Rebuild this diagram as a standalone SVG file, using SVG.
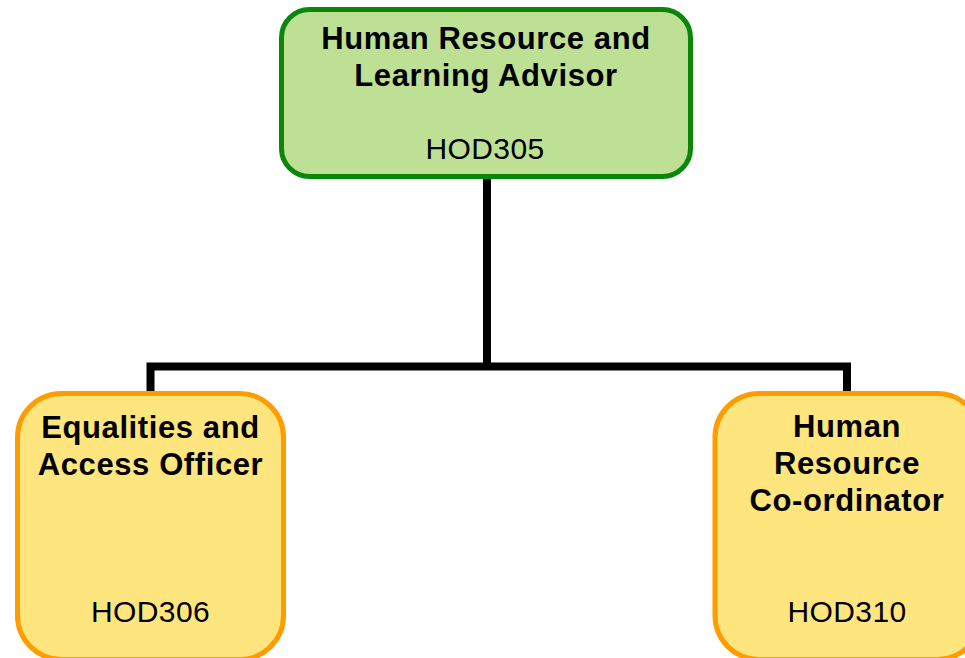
<svg xmlns="http://www.w3.org/2000/svg" width="965" height="658" viewBox="0 0 965 658">
<style>
.t{font-family:"Liberation Sans",Arial,sans-serif;font-size:30px;fill:#000;text-anchor:middle;letter-spacing:0.4px}
.b{font-weight:bold;font-size:31px;letter-spacing:0.6px}
.green{fill:#bde094;stroke:#0a870a;stroke-width:5}
.orange{fill:#ffe57d;stroke:#ff9c00;stroke-width:5}
.conn{fill:none;stroke:#000;stroke-width:8;stroke-linejoin:miter}
</style>
<rect width="965" height="658" fill="#fff"/>
<g id="connectors">
<path class="conn" d="M487,179 V366.5"/>
<path class="conn" d="M150.5,392 V366.5 H847 V392"/>
</g>
<g id="node-hod305">
<rect class="green" x="281.5" y="9.5" width="409" height="167" rx="28" ry="28"/>
<text class="t b" x="486" y="49">Human Resource and</text>
<text class="t b" x="486" y="86">Learning Advisor</text>
<text class="t" x="485" y="159">HOD305</text>
</g>
<g id="node-hod306">
<rect class="orange" x="17.5" y="393.5" width="266" height="266" rx="44" ry="44"/>
<text class="t b" x="150.5" y="438">Equalities and</text>
<text class="t b" x="150.5" y="475">Access Officer</text>
<text class="t" x="150.5" y="622">HOD306</text>
</g>
<g id="node-hod310">
<rect class="orange" x="715" y="393.5" width="266" height="266" rx="44" ry="44"/>
<text class="t b" x="847" y="437">Human</text>
<text class="t b" x="847" y="474">Resource</text>
<text class="t b" x="847" y="511">Co-ordinator</text>
<text class="t" x="847" y="622">HOD310</text>
</g>
</svg>
